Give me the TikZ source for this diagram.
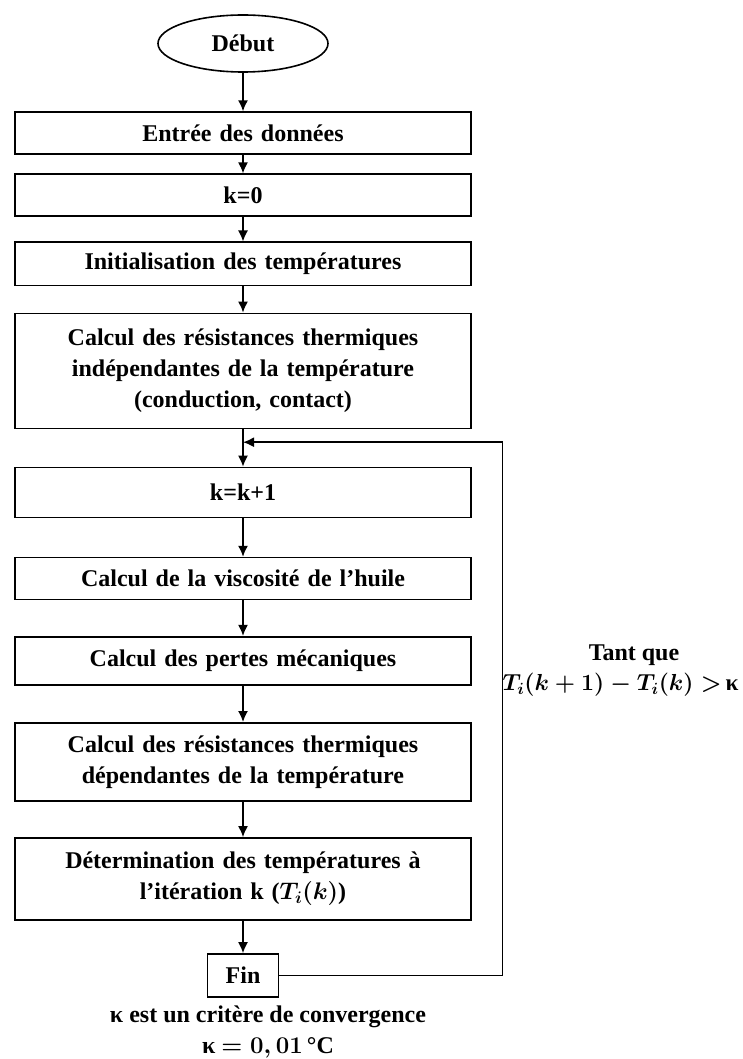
\RequirePackage{fix-cm}
\documentclass[tikz,border=0pt]{standalone}
\usepackage{fontspec}
\setmainfont{Liberation Serif}
\usepackage{amsmath}
\usetikzlibrary{shapes,arrows.meta,positioning}
\newcommand{\boldmaths}[1]{\mbox{\boldmath$#1$}}
\tikzstyle{block} = [rectangle, draw, line width=1.6pt, minimum width=456pt,
    text width=440pt, align=center, minimum height=42pt, inner sep=0pt]
\tikzstyle{finbox} = [rectangle, draw, line width=1.6pt, minimum width=71pt,
    minimum height=43pt, inner sep=0pt]
\tikzstyle{cloud} = [draw, ellipse, line width=1.6pt, minimum width=170pt,
    minimum height=57pt, inner sep=0pt]
\tikzstyle{arrow} = [draw, -{Latex[length=11pt,width=10pt]}, line width=1.6pt]
\tikzstyle{line} = [draw, line width=1.6pt]

\begin{document}
\begin{tikzpicture}[x=1pt, y=-1pt, every node/.style={font=\fontsize{24}{31}\selectfont\bfseries}]
    \useasboundingbox (0,0) rectangle (742,1059);
    % Place nodes
    \node [cloud] (debut) at (243,43.5) {Début};
    \node [block, below=38.5pt of debut] (entree) {Entrée des données};
    \node [block, below=18.5pt of entree] (kzero) {k=0};
    \node [block, below=24.5pt of kzero, minimum height=43pt] (initT) {Initialisation des températures};
    \node [block, below=26.5pt of initT, minimum height=115pt] (resIndep) {Calcul des résistances thermiques\\
        indépendantes de la température\\ (conduction, contact)};
    \node [block, below=37.5pt of resIndep, minimum height=50pt] (kplus) {k=k+1};
    \node [block, below=38.5pt of kplus] (viscosite) {Calcul de la viscosité de l’huile};
    \node [block, below=35.5pt of viscosite, minimum height=48pt] (pertes) {Calcul des pertes mécaniques};
    \node [block, below=36.5pt of pertes, minimum height=78pt] (resDep) {Calcul des résistances thermiques\\
        dépendantes de la température};
    \node [block, below=35.5pt of resDep, minimum height=82pt] (determT) {Détermination des températures à\\
        l’itération k (\boldmaths{T_i(k)})};
    \node [finbox, below=32.5pt of determT] (fin) {Fin};
    \node (tantque) at (634,655) {Tant que};
    \node (condition) at (620.5,685) {\fontsize{23.2}{28}\selectfont\boldmaths{T_i(k+1)-T_i(k)>}\,κ};
    \node [align=center] (critere) at (268,1032) {κ est un critère de convergence\\ κ \boldmaths{=0,01}\,°C};
    \coordinate (loopin) at ([yshift=-13pt]resIndep.south);

    \path [arrow] (debut) -- (entree);
    \path [arrow] (entree) -- (kzero);
    \path [arrow] (kzero) -- (initT);
    \path [arrow] (initT) -- (resIndep);
    \path [arrow] (resIndep) -- (kplus);
    \path [arrow] (kplus) -- (viscosite);
    \path [arrow] (viscosite) -- (pertes);
    \path [arrow] (pertes) -- (resDep);
    \path [arrow] (resDep) -- (determT);
    \path [arrow] (determT) -- (fin);
    \path [arrow] (fin.east) -- ++(223pt,0) |- (loopin);
\end{tikzpicture}
\end{document}
